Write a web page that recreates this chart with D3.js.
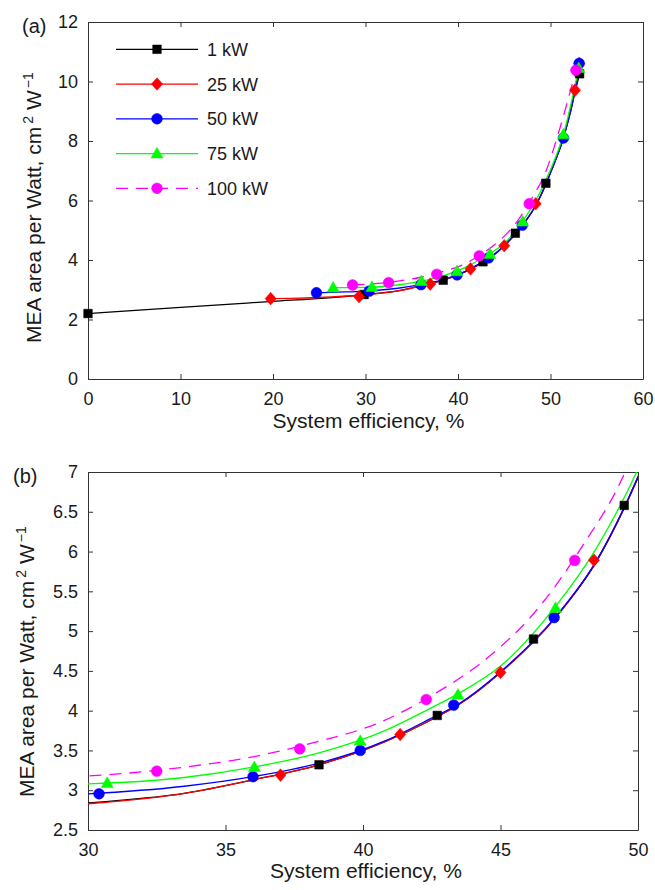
<!DOCTYPE html>
<html><head><meta charset="utf-8">
<script src="https://cdn.jsdelivr.net/npm/d3@7"></script>
<style>
html,body{margin:0;padding:0;background:#fff;}
svg{display:block;font-family:"Liberation Sans",Arial,Helvetica,sans-serif;}
</style></head>
<body>
<svg id="chart" width="655" height="890"></svg>
<script>
// ---------- DATA ----------
const seriesNames = ["1 kW", "25 kW", "50 kW", "75 kW", "100 kW"];

// measured points (markers)
const pts1kW_x   = [0, 29.85, 38.4, 42.7, 46.2, 49.5, 53.15];
const pts1kW_y   = [2.2, 2.84, 3.32, 3.94, 4.90, 6.58, 10.26];
const pts25kW_x  = [19.75, 29.3, 37.0, 41.35, 45.0, 48.4, 52.65, 53.1];
const pts25kW_y  = [2.70, 2.77, 3.19, 3.70, 4.48, 5.89, 9.71, 10.6];
const pts50kW_x  = [24.7, 30.4, 36.0, 39.9, 43.3, 46.95, 51.4, 53.1];
const pts50kW_y  = [2.90, 2.955, 3.17, 3.50, 4.07, 5.17, 8.10, 10.61];
const pts75kW_x  = [26.5, 30.7, 36.05, 39.9, 43.45, 47.0, 51.4, 53.05];
const pts75kW_y  = [3.07, 3.09, 3.29, 3.62, 4.20, 5.29, 8.22, 10.45];
const pts100kW_x = [28.6, 32.5, 37.7, 42.3, 47.7, 52.75];
const pts100kW_y = [3.16, 3.24, 3.52, 4.14, 5.89, 10.38];

// fitted curves
const fit1kW_x   = [0, 10, 20, 26, 30, 33.5, 36, 38.4, 40.8, 42.4, 43.5, 45, 47, 48.5, 49.6, 50, 51.4, 52.65, 53.15];
const fit1kW_y   = [2.2, 2.41, 2.61, 2.73, 2.84, 2.96, 3.13, 3.32, 3.61, 3.87, 4.08, 4.48, 5.17, 5.88, 6.62, 6.93, 8.1, 9.65, 10.26];
const fit25kW_x  = [19.75, 22, 25, 28, 30, 33.5, 36, 38.4, 40.8, 42.4, 43.5, 45, 47, 48.5, 49.6, 50, 51.4, 52.65, 53.1];
const fit25kW_y  = [2.70, 2.71, 2.74, 2.79, 2.83, 2.96, 3.13, 3.32, 3.61, 3.87, 4.08, 4.48, 5.17, 5.89, 6.63, 6.94, 8.12, 9.7, 10.6];
const fit50kW_x  = [24.7, 27, 30, 33.5, 36, 38.4, 40.8, 42.4, 43.5, 45, 47, 48.5, 49.6, 50, 51.4, 52.65, 53.1];
const fit50kW_y  = [2.90, 2.92, 2.955, 3.05, 3.17, 3.34, 3.62, 3.89, 4.09, 4.49, 5.18, 5.89, 6.63, 6.94, 8.12, 9.7, 10.61];
const fit75kW_x  = [26.5, 28, 30, 33.5, 36, 38.4, 40.8, 42.4, 43.5, 45, 47, 48.5, 49.95, 51.4, 53.05];
const fit75kW_y  = [3.07, 3.07, 3.08, 3.16, 3.29, 3.47, 3.75, 4.02, 4.22, 4.56, 5.31, 6.05, 7.0, 8.22, 10.45];
const fit100kW_x = [28.6, 30.5, 33.5, 36, 38, 40.8, 42.3, 44.86, 45.95, 48.0, 49.53, 50.6, 52.75];
const fit100kW_y = [3.16, 3.19, 3.29, 3.42, 3.58, 3.88, 4.15, 4.76, 5.12, 6.08, 7.0, 8.0, 10.38];

// axis ticks
const ticksAx = [0, 10, 20, 30, 40, 50, 60];
const ticksAy = [0, 2, 4, 6, 8, 10, 12];
const ticksBx = [30, 35, 40, 45, 50];
const ticksBy = [2.5, 3, 3.5, 4, 4.5, 5, 5.5, 6, 6.5, 7];

// ---------- STYLE ----------
const colors  = ["#000000", "#ff0000", "#0000ff", "#00ff00", "#ff00ff"];
const markers = ["square", "diamond", "circle", "triangle", "circle"];
const dashes  = [null, null, null, null, "12,8"];
const axisColor = "#333";
const textColor = "#1a1a1a";

const ptsX = [pts1kW_x, pts25kW_x, pts50kW_x, pts75kW_x, pts100kW_x];
const ptsY = [pts1kW_y, pts25kW_y, pts50kW_y, pts75kW_y, pts100kW_y];
const fitX = [fit1kW_x, fit25kW_x, fit50kW_x, fit75kW_x, fit100kW_x];
const fitY = [fit1kW_y, fit25kW_y, fit50kW_y, fit75kW_y, fit100kW_y];

const series = seriesNames.map((name, i) => ({
  name, color: colors[i], marker: markers[i], dash: dashes[i],
  pts: ptsX[i].map((x, j) => ({x, y: ptsY[i][j]})),
  fit: fitX[i].map((x, j) => ({x, y: fitY[i][j]}))
}));

const svg = d3.select("#chart");

function markerPath(type) {
  if (type === "square") return "M-4.3,-4.3H4.3V4.3H-4.3Z";
  if (type === "diamond") return "M0,-6.3L5.6,0L0,6.3L-5.6,0Z";
  if (type === "triangle") return "M0,-6.2L6,4.4L-6,4.4Z";
  return d3.symbol().type(d3.symbolCircle).size(Math.PI * 5.4 * 5.4)();
}

function drawPanel(cfg) {
  const {x0, x1, y0, y1, xDom, yDom, xTicks, yTicks, id, label, labelPos, ylabX, ylabY, titleY, legend} = cfg;
  const x = d3.scaleLinear().domain(xDom).range([x0, x1]);
  const y = d3.scaleLinear().domain(yDom).range([y1, y0]);
  const g = svg.append("g");

  svg.append("clipPath").attr("id", "clip" + id)
    .append("rect").attr("x", x0).attr("y", y0).attr("width", x1 - x0).attr("height", y1 - y0);

  // axes
  const styleAxis = sel => {
    sel.selectAll("path,line").attr("stroke", axisColor).attr("stroke-width", 1);
    sel.selectAll("text").attr("fill", textColor).attr("font-size", 18)
      .attr("font-family", '"Liberation Sans",Arial,sans-serif');
  };
  g.append("g").attr("transform", `translate(0,${y1})`)
    .call(d3.axisBottom(x).tickValues(xTicks).tickSizeInner(-5).tickSizeOuter(0).tickPadding(13).tickFormat(d3.format("")))
    .call(styleAxis);
  g.append("g").attr("transform", `translate(0,${y0})`)
    .call(d3.axisTop(x).tickValues(xTicks).tickSizeInner(-5).tickSizeOuter(0).tickFormat(""))
    .call(styleAxis);
  g.append("g").attr("transform", `translate(${x0},0)`)
    .call(d3.axisLeft(y).tickValues(yTicks).tickSizeInner(-5).tickSizeOuter(0).tickPadding(10).tickFormat(d3.format("")))
    .call(styleAxis);
  g.append("g").attr("transform", `translate(${x1},0)`)
    .call(d3.axisRight(y).tickValues(yTicks).tickSizeInner(-5).tickSizeOuter(0).tickFormat(""))
    .call(styleAxis);

  // curves
  const line = d3.line().x(d => x(d.x)).y(d => y(d.y)).curve(d3.curveMonotoneX);
  const plot = g.append("g").attr("clip-path", `url(#clip${id})`);
  series.forEach(s => {
    plot.append("path").datum(s.fit).attr("d", line)
      .attr("fill", "none").attr("stroke", s.color).attr("stroke-width", 1.3)
      .attr("stroke-dasharray", s.dash);
  });
  // markers (only those whose centre is inside the axes; not clipped)
  const mk = g.append("g");
  series.forEach(s => {
    mk.selectAll(null)
      .data(s.pts.filter(p => p.x >= xDom[0] && p.x <= xDom[1] && p.y >= yDom[0] && p.y <= yDom[1]))
      .join("path")
      .attr("d", markerPath(s.marker))
      .attr("transform", d => `translate(${x(d.x)},${y(d.y)})`)
      .attr("fill", s.color).attr("stroke", s.color).attr("stroke-width", 0.5);
  });

  // titles
  g.append("text").attr("x", (x0 + x1) / 2 + 3).attr("y", titleY)
    .attr("text-anchor", "middle").attr("font-size", 21).attr("fill", textColor)
    .text("System efficiency, %");
  const yl = g.append("text").attr("transform", `translate(${ylabX},${ylabY}) rotate(-90)`)
    .attr("text-anchor", "start").attr("font-size", 21).attr("fill", textColor);
  yl.append("tspan").text("MEA area per Watt, cm");
  yl.append("tspan").attr("dx", 3).attr("dy", -8).attr("font-size", 14).text("2");
  yl.append("tspan").attr("dy", 8).text(" W");
  yl.append("tspan").attr("dx", 2).attr("dy", -8).attr("font-size", 14).text("\u22121");

  g.append("text").attr("x", labelPos[0]).attr("y", labelPos[1])
    .attr("font-size", 20).attr("fill", textColor).text(label);

  if (legend) {
    const lg = g.append("g");
    series.forEach((s, i) => {
      const ly = 49.3 + i * 34.75;
      lg.append("line").attr("x1", 116).attr("x2", 198).attr("y1", ly).attr("y2", ly)
        .attr("stroke", s.color).attr("stroke-width", 1.3).attr("stroke-dasharray", s.dash);
      lg.append("path").attr("d", markerPath(s.marker)).attr("transform", `translate(157,${ly})`)
        .attr("fill", s.color).attr("stroke", s.color).attr("stroke-width", 0.5);
      lg.append("text").attr("x", 207).attr("y", ly + 6.5).attr("font-size", 18)
        .attr("fill", textColor).text(s.name);
    });
  }
}

drawPanel({id: "a", x0: 88, x1: 643, y0: 22, y1: 379, xDom: [0, 60], yDom: [0, 12],
  xTicks: ticksAx, yTicks: ticksAy, label: "(a)", labelPos: [22, 33],
  ylabX: 41, ylabY: 343, titleY: 428, legend: true});
drawPanel({id: "b", x0: 88, x1: 638, y0: 472, y1: 830, xDom: [30, 50], yDom: [2.5, 7],
  xTicks: ticksBx, yTicks: ticksBy, label: "(b)", labelPos: [13, 483],
  ylabX: 34, ylabY: 797, titleY: 878, legend: false});
</script>
</body></html>
